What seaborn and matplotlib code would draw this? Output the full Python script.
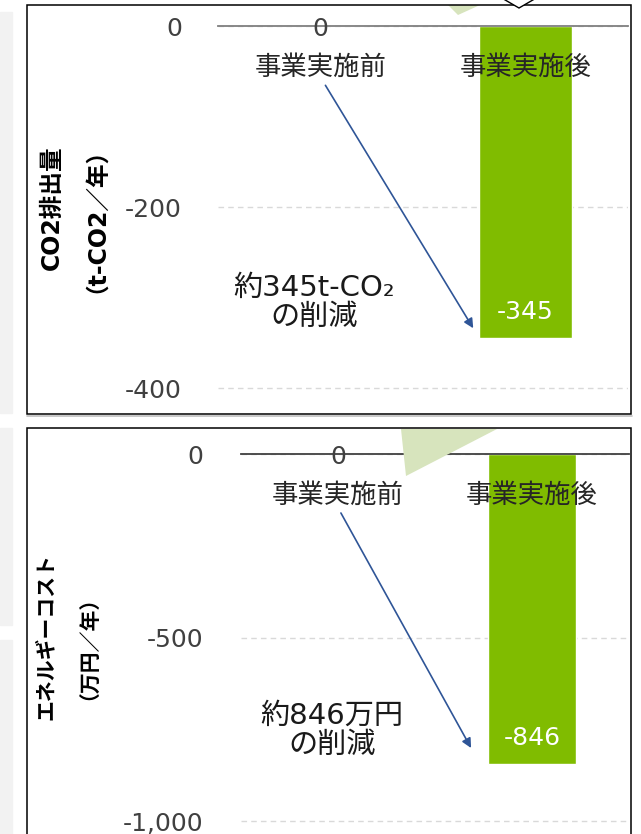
import matplotlib
matplotlib.use('Agg')
import matplotlib.pyplot as plt
from matplotlib.patches import Rectangle, Polygon
import seaborn as sns
import pandas as pd

# ---------------- data ----------------
categories = ['事業実施前', '事業実施後']
co2_values = [0, -345]
cost_values = [0, -846]
co2_value_labels = ['0', '-345']
cost_value_labels = ['0', '-846']
co2_ticks = [0, -200, -400]
co2_tick_labels = ['0', '-200', '-400']
cost_ticks = [0, -500, -1000]
cost_tick_labels = ['0', '-500', '-1,000']
co2_ylabel = 'CO2排出量\n（t-CO2／年）'
cost_ylabel = 'エネルギーコスト\n（万円／年）'
co2_note = '約345t-CO₂\nの削減'
cost_note = '約846万円\nの削減'

# ---------------- style ----------------
sns.set_style('white')
plt.rcParams['font.family'] = ['DejaVu Sans', 'Noto Sans CJK JP']

BAR = '#80bc00'
ARROW = '#2f5597'
GRID = '#d9d9d9'
TRI = '#d7e4bd'

W, H = 641, 834
fig = plt.figure(figsize=(W / 100, H / 100), dpi=100)


def fx(x):
    return x / W


def fy(y):
    return 1 - y / H


def axes_px(left, top, right, bottom):
    return fig.add_axes([fx(left), fy(bottom), (right - left) / W, (bottom - top) / H])


def poly_px(pts, **kw):
    p = Polygon([(fx(x), fy(y)) for x, y in pts], closed=True,
                transform=fig.transFigure, **kw)
    fig.add_artist(p)
    return p


def panel(ax, values, value_labels, ylim, ticks, tick_labels, ylabel, ylabel_size,
          ylabel_ls, ylabel_xy, note, note_y, arrow_tail, arrow_head, zero_color, ypad):
    df = pd.DataFrame({'cat': categories, 'val': values})
    sns.barplot(data=df, x='cat', y='val', ax=ax, color=BAR, saturation=1,
                width=0.45, errorbar=None)
    ax.set_xlim(-0.5, 1.5)
    ax.set_ylim(*ylim)
    ax.set_xlabel('')
    for s in ['top', 'right', 'left']:
        ax.spines[s].set_visible(False)
    ax.spines['bottom'].set_position(('data', 0))
    ax.spines['bottom'].set_color(zero_color)
    ax.spines['bottom'].set_linewidth(1.3)
    ax.spines['bottom'].set_zorder(3)
    ax.set_yticks(ticks)
    ax.set_yticklabels(tick_labels)
    ax.tick_params(axis='y', length=0, pad=ypad, labelsize=18, labelcolor='#404040')
    ax.tick_params(axis='x', length=0, pad=21, labelsize=19, labelcolor='#262626')
    ax.yaxis.grid(True, color=GRID, lw=1.0, ls=(0, (4, 3)))
    ax.xaxis.grid(False)
    ax.set_axisbelow(True)
    ax.xaxis.set_zorder(5)
    ax.patch.set_alpha(0)

    ax.set_ylabel(ylabel, fontsize=ylabel_size, fontweight='bold', color='#000000',
                  linespacing=ylabel_ls, va='center')
    ax.yaxis.set_label_coords(*ylabel_xy)

    for i, (v, lab) in enumerate(zip(values, value_labels)):
        if v == 0:
            ax.annotate(lab, xy=(i, v), xytext=(0, -2), textcoords='offset points',
                        ha='center', va='center', fontsize=18, color='#404040', zorder=5)
        else:
            ax.annotate(lab, xy=(i, v), xytext=(0, 19), textcoords='offset points',
                        ha='center', va='center', fontsize=18, color='white', zorder=5)

    ax.text(-0.03, note_y, note, ha='center', va='center', fontsize=21,
            color='#1a1a1a', linespacing=1.05, zorder=5)
    ax.annotate('', xy=arrow_head, xytext=arrow_tail,
                arrowprops=dict(arrowstyle='-|>', color=ARROW, lw=1.2,
                                mutation_scale=14, shrinkA=0, shrinkB=0), zorder=5)


# ---------------- decorations behind/around ----------------
for top, bot in [(12, 413), (428, 625), (640, 840)]:
    fig.add_artist(Rectangle((fx(0), fy(bot)), fx(12), (bot - top) / H,
                             transform=fig.transFigure, color='#f2f2f2', zorder=0))
fig.add_artist(plt.Line2D([fx(27), fx(632)], [fy(416), fy(416)],
                          transform=fig.transFigure, color='#bfbfbf', lw=1.2, zorder=0))

# ---------------- top panel ----------------
ax1 = axes_px(218, 18, 628, 410)
panel(ax1, co2_values, co2_value_labels, (-424.3, 8.84), co2_ticks, co2_tick_labels,
      co2_ylabel, 17, 1.41, (-0.366, 0.515), co2_note, -305,
      (0.024, co2_values[1] * 0.19), (0.745, co2_values[1] * 0.968), '#7f7f7f', 26)

# ---------------- bottom panel ----------------
ax2 = axes_px(241, 446, 629, 834)
panel(ax2, cost_values, cost_value_labels, (-1035.4, 21.8), cost_ticks, cost_tick_labels,
      cost_ylabel, 15, 1.85, (-0.460, 0.508), cost_note, -752,
      (0.015, cost_values[1] * 0.19), (0.686, cost_values[1] * 0.947), '#404040', 27)

# ---------------- decorative shapes ----------------
poly_px([(448, 5), (480, 5), (458, 15)], facecolor=TRI, edgecolor='none', zorder=10)
poly_px([(401, 429), (497, 429), (406, 476)], facecolor=TRI, edgecolor='none', zorder=10)
poly_px([(500, -3), (519, 8), (538, -3)], facecolor='white', edgecolor='black',
        lw=1.0, zorder=12)

fig.add_artist(Rectangle((fx(27), fy(414)), (631 - 27) / W, (414 - 5) / H,
                         transform=fig.transFigure, fill=False, edgecolor='black',
                         lw=1.1, zorder=11))
fig.add_artist(Rectangle((fx(27), fy(845)), (631 - 27) / W, (845 - 428) / H,
                         transform=fig.transFigure, fill=False, edgecolor='black',
                         lw=1.1, zorder=11))

fig.savefig('out.png', dpi=100)
